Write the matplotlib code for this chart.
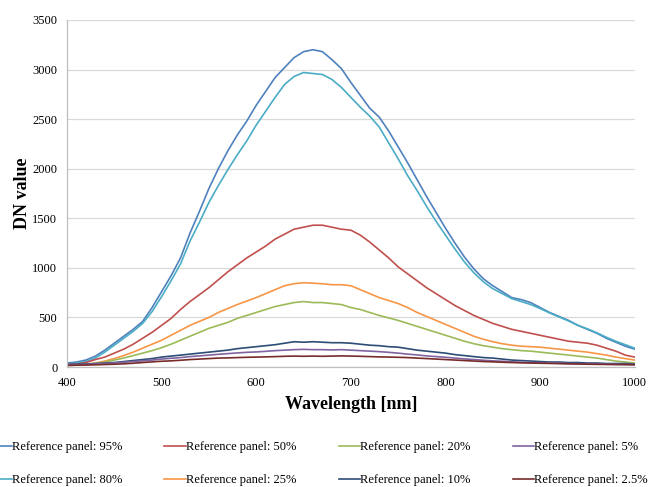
import matplotlib
matplotlib.use("Agg")
import matplotlib.pyplot as plt
import numpy as np

plt.rcParams['font.family'] = ['Liberation Serif', 'DejaVu Serif']

# wavelength axis, 10 nm steps
wavelength = np.arange(400, 1001, 10)

panel_95 = [40, 50, 70, 110, 170, 240, 310, 380, 460, 600,
            760, 920, 1100, 1350, 1570, 1800, 2000, 2180, 2340, 2480,
            2640, 2780, 2920, 3020, 3120, 3180, 3200, 3180, 3100, 3010,
            2870, 2740, 2610, 2520, 2380, 2220, 2060, 1890, 1720, 1560,
            1400, 1250, 1110, 990, 890, 820, 760, 700, 680, 650,
            600, 550, 510, 470, 420, 380, 340, 290, 250, 210, 180]
panel_80 = [30, 40, 55, 90, 150, 220, 290, 360, 440, 560,
            710, 870, 1040, 1270, 1460, 1660, 1830, 1990, 2140, 2280,
            2440, 2580, 2720, 2850, 2930, 2970, 2960, 2950, 2900, 2820,
            2720, 2620, 2530, 2420, 2260, 2100, 1930, 1780, 1620, 1470,
            1330, 1190, 1060, 950, 860, 790, 740, 690, 660, 630,
            590, 545, 505, 465, 420, 385, 345, 300, 260, 225, 190]
panel_50 = [25, 30, 45, 75, 100, 140, 180, 230, 290, 350,
            420, 490, 580, 660, 730, 800, 880, 960, 1030, 1100,
            1160, 1220, 1290, 1340, 1390, 1410, 1430, 1430, 1410, 1390,
            1380, 1330, 1260, 1180, 1100, 1010, 940, 870, 800, 740,
            680, 620, 570, 520, 480, 440, 410, 380, 360, 340,
            320, 300, 280, 260, 250, 240, 220, 190, 160, 120, 100]
panel_25 = [20, 22, 28, 40, 60, 85, 115, 150, 190, 230,
            270, 320, 370, 420, 460, 500, 550, 590, 630, 665,
            700, 740, 780, 820, 840, 850, 845, 840, 830, 830,
            820, 780, 740, 700, 670, 640, 600, 550, 510, 470,
            430, 390, 350, 310, 280, 255, 235, 220, 210, 205,
            200, 190, 180, 170, 160, 150, 135, 120, 100, 85, 70]
panel_20 = [20, 20, 25, 35, 50, 70, 90, 115, 140, 165,
            195, 230, 270, 310, 350, 390, 420, 450, 490, 520,
            550, 580, 610, 630, 650, 660, 650, 650, 640, 630,
            600, 580, 550, 520, 495, 470, 440, 410, 380, 350,
            320, 290, 260, 235, 215, 200, 185, 175, 165, 160,
            150, 140, 130, 120, 110, 100, 90, 75, 60, 50, 40]
panel_10 = [25, 28, 30, 35, 40, 45, 55, 65, 75, 85,
            100, 110, 120, 130, 140, 150, 160, 170, 185, 195,
            205, 215, 225, 240, 255, 250, 255, 250, 245, 245,
            240, 230, 220, 215, 205, 200, 185, 170, 160, 150,
            140, 125, 115, 105, 95, 90, 80, 70, 65, 60,
            55, 50, 50, 45, 45, 40, 40, 35, 35, 35, 30]
panel_5 = [20, 22, 25, 30, 35, 40, 48, 55, 62, 70,
           80, 88, 95, 105, 112, 120, 128, 135, 142, 148,
           152, 158, 165, 170, 175, 178, 175, 175, 172, 175,
           170, 165, 160, 155, 148, 140, 130, 122, 112, 105,
           98, 90, 82, 75, 68, 62, 58, 52, 48, 45,
           42, 40, 38, 35, 33, 32, 30, 28, 27, 26, 25]
panel_2_5 = [15, 18, 20, 22, 25, 28, 32, 38, 45, 52,
             58, 62, 68, 75, 80, 85, 90, 92, 95, 98,
             100, 102, 105, 108, 110, 108, 110, 108, 110, 112,
             110, 108, 105, 102, 100, 98, 95, 90, 85, 80,
             75, 70, 65, 60, 55, 52, 48, 45, 42, 40,
             38, 36, 34, 32, 30, 28, 27, 26, 25, 24, 22]

series = [
    ("Reference panel: 95%", panel_95, "#4F81BD"),
    ("Reference panel: 80%", panel_80, "#4BACC6"),
    ("Reference panel: 50%", panel_50, "#C0504D"),
    ("Reference panel: 25%", panel_25, "#F79646"),
    ("Reference panel: 20%", panel_20, "#9BBB59"),
    ("Reference panel: 10%", panel_10, "#2C4D75"),
    ("Reference panel: 5%", panel_5, "#8064A2"),
    ("Reference panel: 2.5%", panel_2_5, "#772C2A"),
]

fig = plt.figure(figsize=(6.49, 4.87), dpi=100)
ax = fig.add_axes([0.1032, 0.2464, 0.8748, 0.7126])

for label, vals, col in series:
    ax.plot(wavelength, vals, color=col, lw=1.2, label=label)

ax.set_xlim(400, 1000)
ax.set_ylim(0, 3500)
ax.set_xticks(range(400, 1001, 100))
ax.set_yticks(range(0, 3501, 500))
ax.tick_params(length=0, labelsize=9, pad=7)
ax.grid(axis='y', color='#D9D9D9', lw=0.9)
ax.set_axisbelow(True)
for s in ['top', 'right']:
    ax.spines[s].set_visible(False)
for s in ['left', 'bottom']:
    ax.spines[s].set_color('#BFBFBF')
    ax.spines[s].set_linewidth(0.9)

ax.set_ylabel("DN value", fontsize=13, fontweight='bold', labelpad=1)
ax.set_xlabel("Wavelength [nm]", fontsize=13, fontweight='bold', labelpad=5)

handles, labels = ax.get_legend_handles_labels()
fig.legend(handles, labels, ncol=4, loc='upper left',
           bbox_to_anchor=(-0.015, 0.094), frameon=False, fontsize=9,
           handlelength=1.7, handletextpad=0.0, columnspacing=3.4,
           labelspacing=1.7, borderpad=0, borderaxespad=0)

fig.savefig("out.png", dpi=100)
